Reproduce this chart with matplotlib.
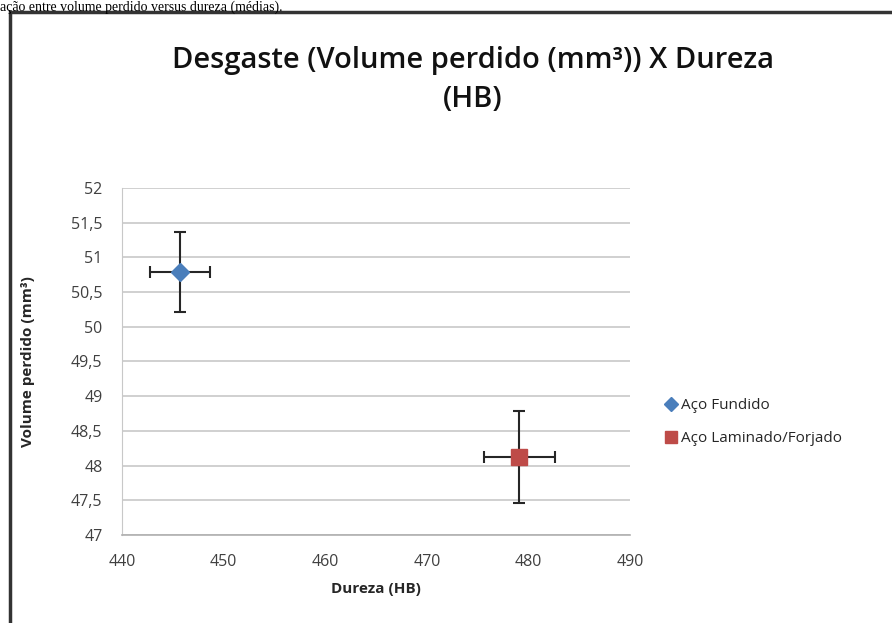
import matplotlib.pyplot as plt
from matplotlib.patches import Rectangle

# dados
series = ["Aço Fundido", "Aço Laminado/Forjado"]
dureza = [445.7, 479.1]
volume = [50.79, 48.12]
err_dureza = [2.95, 3.5]
err_volume = [0.58, 0.66]
colors = ["#4a7ebb", "#be4b48"]
markers = ["D", "s"]

yticks = [47, 47.5, 48, 48.5, 49, 49.5, 50, 50.5, 51, 51.5, 52]
xticks = [440, 450, 460, 470, 480, 490]

plt.rcParams["font.family"] = ["Open Sans", "DejaVu Sans"]

fig = plt.figure(figsize=(8.92, 6.23), dpi=100)
ax = fig.add_axes([0.1368, 0.1413, 0.5695, 0.5570])

for i in range(len(series)):
    ax.errorbar(dureza[i], volume[i], xerr=err_dureza[i], yerr=err_volume[i],
                fmt="none", ecolor="#262626", elinewidth=1.5, capsize=4, capthick=1.5, zorder=3)
    ax.plot(dureza[i], volume[i], linestyle="none", marker=markers[i], color=colors[i],
            markersize=11 if i == 1 else 9, label=series[i], zorder=4)

ax.set_xlim(440, 490)
ax.set_ylim(47, 52)
ax.set_xticks(xticks)
ax.set_yticks(yticks)
ax.set_xticklabels([str(v) for v in xticks])
ax.set_yticklabels([("%g" % v).replace(".", ",") for v in yticks])
ax.tick_params(length=0, labelsize=11.5, colors="#404040")
ax.tick_params(axis="x", pad=14)
ax.tick_params(axis="y", pad=14)
ax.grid(axis="y", color="#c8c8c8", linewidth=1.2)
ax.set_axisbelow(True)
for s in ["top", "right"]:
    ax.spines[s].set_visible(False)
ax.spines["left"].set_color("#c8c8c8")
ax.spines["bottom"].set_color("#b0b0b0")
ax.spines["bottom"].set_linewidth(1.2)

ax.set_xlabel("Dureza (HB)", fontsize=11, fontweight="bold", color="#262626", labelpad=8)
ax.set_ylabel("Volume perdido (mm³)", fontsize=11, fontweight="bold", color="#262626", labelpad=26)

fig.text(0.53, 0.872, "Desgaste (Volume perdido (mm³)) X Dureza\n(HB)", ha="center", va="center",
         fontsize=21, fontweight="semibold", color="#111111", linespacing=1.45)

ax.legend(loc="center left", bbox_to_anchor=(1.04, 0.325), frameon=False, fontsize=11,
          handletextpad=0.2, handlelength=0.9, labelspacing=1.15, markerscale=0.8, labelcolor="#262626")

# moldura do grafico
fig.patches.append(Rectangle((10 / 892, -0.05), 1.0, 1.05 - 12 / 623, transform=fig.transFigure,
                             fill=False, edgecolor="#333333", linewidth=2.5))
fig.text(0.0, 0.999, "ação entre volume perdido versus dureza (médias).", ha="left", va="top",
         fontsize=10, family=["Liberation Serif", "DejaVu Serif"])

fig.savefig("out.png", dpi=100)
